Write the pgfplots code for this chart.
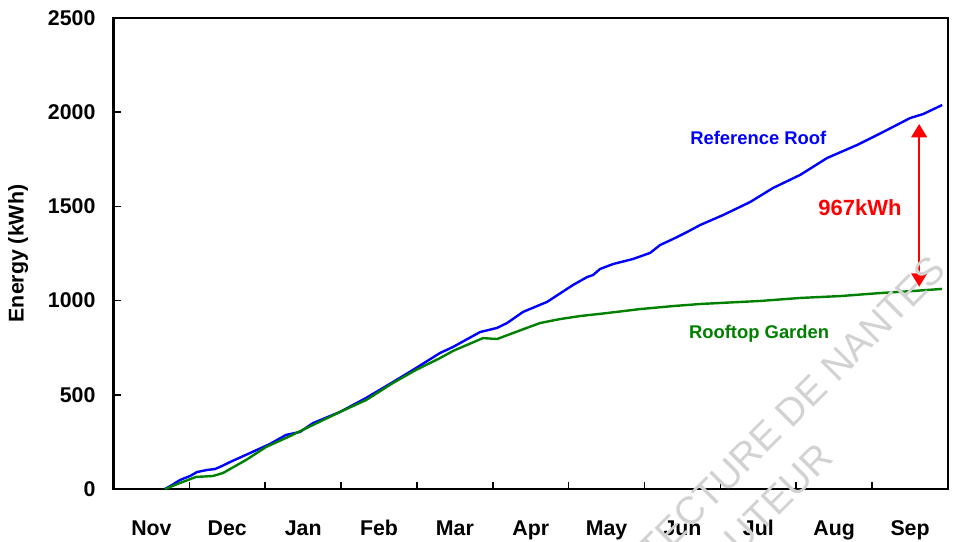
\documentclass[border=0pt]{standalone}
\usepackage{fontspec}
\setmainfont{Liberation Sans}
\usepackage{pgfplots}
\pgfplotsset{compat=1.18}
\usetikzlibrary{arrows.meta}
\definecolor{rgreen}{RGB}{0,128,0}
\definecolor{rblue}{RGB}{0,0,255}
\definecolor{rred}{RGB}{255,0,0}
\begin{document}
\begin{tikzpicture}
\useasboundingbox (-85.125pt,-39.75pt) rectangle (629.625pt,366.75pt);
\begin{axis}[
 at={(0,0)}, anchor=south west,
 scale only axis, width=625.875pt, height=353.25pt,
 xmin=0, xmax=11, ymin=0, ymax=2500,
 axis line style={line width=1.6pt},
 xtick={0.5,1.5,...,10.5},
 xticklabels={Nov,Dec,Jan,Feb,Mar,Apr,May,Jun,Jul,Aug,Sep},
 minor xtick={1,...,10},
 ytick={0,500,...,2500},
 tick pos=left, tick align=inside,
 every major x tick/.append style={draw=none},
 major tick length=6pt, minor tick length=5pt,
 tick style={line width=1.2pt, black},
 /pgf/number format/1000 sep={},
 /pgf/number format/assume math mode=true,
 tick label style={font=\fontsize{16}{19}\selectfont\bfseries},
 xticklabel style={text height=12pt, text depth=3.5pt, yshift=-19pt},
 yticklabel style={xshift=-10pt},
 clip=false,
]
\addplot[rblue, line width=1.8pt] coordinates {
(0.679,0) (0.771,21) (0.877,48) (1.009,69) (1.101,90) (1.233,101) (1.338,106)
(1.430,122) (1.536,143) (1.800,191) (2.063,239) (2.274,287) (2.459,303) (2.630,350)
(2.986,409) (3.329,483) (3.685,568) (3.988,642) (4.305,722) (4.476,754)
(4.832,833) (5.056,855) (5.188,881) (5.399,940) (5.715,993) (6.058,1083)
(6.243,1125) (6.322,1136) (6.414,1168) (6.585,1194) (6.849,1221) (7.073,1253)
(7.205,1295) (7.376,1327) (7.561,1364) (7.732,1401) (8.035,1454) (8.391,1523)
(8.695,1598) (9.051,1667) (9.407,1757) (9.802,1826) (10.145,1895) (10.501,1969)
(10.672,1990) (10.923,2038)
};
\addplot[rgreen, line width=1.8pt] coordinates {
(0.679,0) (0.877,32) (1.088,64) (1.312,69) (1.444,85) (1.747,154) (2.011,223)
(2.274,271) (2.630,340) (2.986,409) (3.329,472) (3.685,563) (3.988,632)
(4.305,695) (4.476,733) (4.871,801) (5.056,796) (5.267,828) (5.623,881)
(5.887,902) (6.151,918) (6.507,934) (6.942,955) (7.376,971) (7.732,982)
(8.523,998) (9.051,1014) (9.578,1024) (10.105,1040) (10.540,1051) (10.923,1062)
};
\draw[rred, line width=1.1pt, {Triangle[length=10pt,width=12pt]}-{Triangle[length=10pt,width=12pt]}]
 (axis cs:10.62,1937) -- (axis cs:10.62,1074);
\node[rred, font=\fontsize{16.5}{19}\selectfont\bfseries] at (axis cs:9.84,1492) {967kWh};
\node[rblue, font=\fontsize{13.8}{16}\selectfont\bfseries] at (axis cs:8.50,1863) {Reference Roof};
\node[rgreen, font=\fontsize{13.8}{16}\selectfont\bfseries] at (axis cs:8.51,823) {Rooftop Garden};
\node[rotate=90, font=\fontsize{16}{19}\selectfont\bfseries] at (axis description cs:-0.1144,0.5) {Energy (kWh)};
\end{axis}
\node[rotate=45, anchor=base east, inner sep=0pt, text=gray!35, font=\fontsize{29}{34}\selectfont] at (626pt,162.5pt) {ARCHITECTURE DE NANTES};
\node[rotate=45, anchor=base east, inner sep=0pt, text=gray!35, font=\fontsize{29}{34}\selectfont] at (541.1pt,22pt) {DROIT D'AUTEUR};
\end{tikzpicture}
\end{document}
